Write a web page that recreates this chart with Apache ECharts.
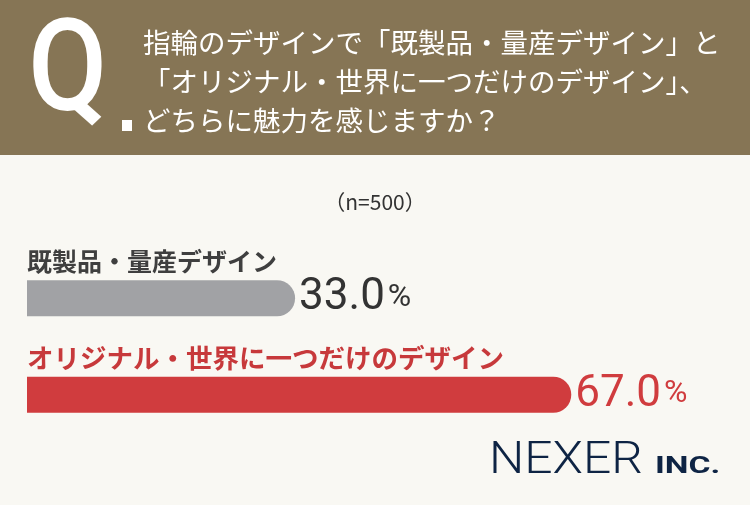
<!DOCTYPE html>
<html><head><meta charset="utf-8">
<script src="https://cdn.jsdelivr.net/npm/echarts@6/dist/echarts.min.js"></script>
<style>html,body{margin:0;padding:0;background:#f9f8f3}#c{width:750px;height:505px}</style>
</head><body><div id="c"></div>
<script>
const categories = ['既製品・量産デザイン', 'オリジナル・世界に一つだけのデザイン'];
const values = [33.0, 67.0];
const barColors = ['#a1a2a5', '#d03c3e'];
const labelColors = ['#3f3f3f', '#c7393b'];
const valueColors = ['#333333', '#d03c3e'];
const questionLines = ['指輪のデザインで「既製品・量産デザイン」と', '「オリジナル・世界に一つだけのデザイン」、', 'どちらに魅力を感じますか？'];
const sampleNote = '（n=500）';
const brandMain = 'NEXER';
const brandSub = 'INC.';

const JP = '"Noto Sans CJK JP", "Noto Sans", sans-serif';
const chart = echarts.init(document.getElementById('c'));

const labelSizes = [25, 26.5];
const catRich = {};
categories.forEach((c, i) => {
  catRich['c' + i] = { color: labelColors[i], fontSize: labelSizes[i], fontWeight: 'bold', fontFamily: JP };
});
const valRich = {};
values.forEach((v, i) => {
  valRich['v' + i] = { color: valueColors[i], fontSize: 44, fontFamily: 'Roboto', fontWeight: 'normal' };
  valRich['p' + i] = { color: valueColors[i], fontSize: 32, fontFamily: 'Roboto', padding: [0, 0, 1, 3] };
});

const graphics = [
  { type: 'rect', shape: { x: 0, y: 0, width: 750, height: 155 }, style: { fill: '#867555' }, z: 0 },
  { type: 'text', x: 28, y: 78, scaleX: 0.9, style: { text: 'Q', x: 0, y: 0, font: '500 128px Roboto', fill: '#ffffff', textVerticalAlign: 'middle' } },
  { type: 'rect', shape: { x: 122, y: 120, width: 10, height: 11 }, style: { fill: '#ffffff' } },
  { type: 'text', x: 375, y: 202, style: { text: sampleNote, font: '21px ' + JP, fill: '#333333', textAlign: 'center', textVerticalAlign: 'middle' } },
  { type: 'text', x: 489, y: 462, scaleX: 1.13, style: { text: brandMain, x: 0, y: 0, font: '300 44px Roboto', fill: '#0e2444', textVerticalAlign: 'middle' } },
  { type: 'text', x: 655, y: 467, scaleX: 1.4, style: { text: brandSub, x: 0, y: 0, font: 'bold 24px Roboto', fill: '#0e2444', textVerticalAlign: 'middle' } }
];
questionLines.forEach((t, i) => {
  graphics.push({ type: 'text', x: 143, y: 43 + i * 39, style: { text: t, font: '27.5px ' + JP, fill: '#ffffff', textVerticalAlign: 'middle' } });
});

chart.setOption({
  backgroundColor: '#f9f8f3',
  animation: false,
  grid: { left: 27, top: 250, right: 0, height: 193 },
  xAxis: { type: 'value', min: 0, max: 89, show: false },
  yAxis: {
    type: 'category', data: categories, inverse: true,
    axisLine: { show: false }, axisTick: { show: false }, splitLine: { show: false },
    axisLabel: {
      inside: true, margin: 0, align: 'left', verticalAlign: 'bottom', padding: [0, 0, 24, 0],
      formatter: (v, i) => '{c' + i + '|' + v + '}', rich: catRich
    }
  },
  series: [{
    type: 'bar', barWidth: 36,
    data: values.map((v, i) => ({ value: v, itemStyle: { color: barColors[i], borderRadius: [0, 18, 18, 0] } })),
    label: {
      show: true, position: 'right', distance: 4,
      formatter: p => '{v' + p.dataIndex + '|' + p.value.toFixed(1) + '}{p' + p.dataIndex + '|%}',
      rich: valRich
    }
  }],
  graphic: graphics
});
</script></body></html>
